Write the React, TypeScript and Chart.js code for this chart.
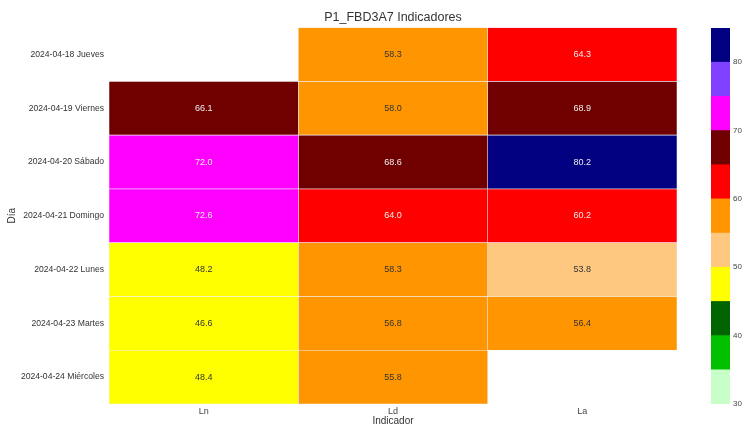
import React, { useEffect, useRef } from 'react';
import { Chart, registerables } from 'chart.js';

Chart.register(...registerables);

const chartTitle = 'P1_FBD3A7 Indicadores';
const days = [
  '2024-04-18 Jueves',
  '2024-04-19 Viernes',
  '2024-04-20 Sábado',
  '2024-04-21 Domingo',
  '2024-04-22 Lunes',
  '2024-04-23 Martes',
  '2024-04-24 Miércoles',
];
const indicators = ['Ln', 'Ld', 'La'];
const lnValues: (number | null)[] = [null, 66.1, 72.0, 72.6, 48.2, 46.6, 48.4];
const ldValues: (number | null)[] = [58.3, 58.0, 68.6, 64.0, 58.3, 56.8, 55.8];
const laValues: (number | null)[] = [64.3, 68.9, 80.2, 60.2, 53.8, 56.4, null];
const seriesValues = [lnValues, ldValues, laValues];

const bandEdges = [30, 35, 40, 45, 50, 55, 60, 65, 70, 75, 80, 85];
const bandColors = [
  '#c8ffc8', '#00c000', '#006400', '#ffff00', '#ffc880', '#ff9500',
  '#ff0000', '#700000', '#ff00ff', '#8040ff', '#000080',
];
const bandTextColors = [
  '#333333', '#333333', '#eeeeee', '#333333', '#333333', '#333333',
  '#eeeeee', '#eeeeee', '#eeeeee', '#eeeeee', '#eeeeee',
];
const colorbarTicks = [30, 40, 50, 60, 70, 80];

const FONT = "'Liberation Sans', Arial, sans-serif";

function bandIndex(v: number) {
  let i = Math.floor((v - bandEdges[0]) / 5);
  if (i < 0) i = 0;
  if (i > bandColors.length - 1) i = bandColors.length - 1;
  return i;
}

const cellLabels = {
  id: 'cellLabels',
  afterDatasetsDraw(chart: any) {
    const ctx = chart.ctx;
    ctx.save();
    ctx.font = `9px ${FONT}`;
    ctx.textAlign = 'center';
    ctx.textBaseline = 'middle';
    chart.data.datasets.forEach((_ds: any, di: number) => {
      const meta = chart.getDatasetMeta(di);
      const vals = seriesValues[di];
      meta.data.forEach((el: any, j: number) => {
        const v = vals[j];
        if (v == null) return;
        const p = el.getProps(['x', 'y', 'base'], true);
        ctx.fillStyle = bandTextColors[bandIndex(v)];
        ctx.fillText(v.toFixed(1), (p.x + p.base) / 2, p.y);
      });
    });
    ctx.restore();
  },
};

export default function App() {
  const mainRef = useRef<HTMLCanvasElement>(null);
  const barRef = useRef<HTMLCanvasElement>(null);

  useEffect(() => {
    document.body.style.margin = '0';
    Chart.defaults.font.family = FONT;

    const main = new Chart(mainRef.current!, {
      type: 'bar',
      data: {
        labels: days,
        datasets: seriesValues.map((vals, i) => ({
          label: indicators[i],
          data: vals.map((v) => (v == null ? null : [i, i + 1])) as any,
          backgroundColor: vals.map((v) => (v == null ? 'rgba(0,0,0,0)' : bandColors[bandIndex(v)])),
          borderColor: 'rgba(240,240,250,0.9)',
          borderWidth: 0.6,
          borderSkipped: false,
          grouped: false,
          barPercentage: 1,
          categoryPercentage: 1,
        })),
      },
      options: {
        indexAxis: 'y',
        responsive: false,
        animation: false,
        layout: { padding: { left: 0, right: 67, top: 0, bottom: 0 } },
        plugins: {
          legend: { display: false },
          tooltip: { enabled: false },
          title: {
            display: true,
            fullSize: false,
            text: chartTitle,
            color: '#333333',
            font: { size: 12.5, weight: 'normal' },
            padding: { top: 10, bottom: 2.6 },
          },
        },
        scales: {
          x: {
            type: 'linear',
            min: 0,
            max: 3,
            grid: { display: false, drawTicks: false },
            border: { display: false },
            afterBuildTicks: (scale: any) => {
              scale.ticks = indicators.map((_l, i) => ({ value: i + 0.5 }));
            },
            afterFit: (scale: any) => {
              scale.height = 23;
            },
            ticks: {
              padding: 2,
              color: '#444444',
              font: { size: 9 },
              autoSkip: false,
              maxRotation: 0,
              callback: (v: any) => indicators[Math.floor(Number(v))],
            },
            title: {
              display: true,
              text: 'Indicador',
              color: '#333333',
              font: { size: 10 },
              padding: { top: 0, bottom: 0 },
            },
          },
          y: {
            type: 'category',
            grid: { display: false, drawTicks: false },
            border: { display: false },
            afterFit: (scale: any) => {
              scale.width = 109;
            },
            ticks: {
              padding: 5,
              color: '#333333',
              font: { size: 8.6 },
              autoSkip: false,
            },
            title: {
              display: true,
              text: 'Día',
              color: '#333333',
              font: { size: 10 },
              padding: { top: 6, bottom: 0 },
            },
          },
        },
      },
      plugins: [cellLabels],
    } as any);

    const bar = new Chart(barRef.current!, {
      type: 'bar',
      data: {
        labels: [''],
        datasets: bandColors.map((c, i) => ({
          label: String(bandEdges[i]),
          data: [[bandEdges[i], bandEdges[i + 1]]] as any,
          backgroundColor: c,
          borderWidth: 0,
          grouped: false,
          barPercentage: 1,
          categoryPercentage: 1,
        })),
      },
      options: {
        responsive: false,
        animation: false,
        layout: { padding: { left: 11, right: 0, top: 28, bottom: 23 } },
        plugins: {
          legend: { display: false },
          tooltip: { enabled: false },
          title: { display: false },
        },
        scales: {
          x: { display: false },
          y: {
            type: 'linear',
            position: 'right',
            min: bandEdges[0],
            max: bandEdges[bandEdges.length - 1],
            grid: { display: false, drawTicks: false },
            border: { display: false },
            afterBuildTicks: (scale: any) => {
              scale.ticks = colorbarTicks.map((v) => ({ value: v }));
            },
            afterFit: (scale: any) => {
              scale.width = 14;
            },
            ticks: {
              padding: 3,
              color: '#444444',
              font: { size: 8 },
            },
          },
        },
      },
    } as any);

    return () => {
      main.destroy();
      bar.destroy();
    };
  }, []);

  return (
    <div style={{ position: 'relative', width: 744, height: 427, background: '#ffffff' }}>
      <canvas ref={mainRef} width={744} height={427} style={{ position: 'absolute', left: 0, top: 0 }} />
      <canvas ref={barRef} width={44} height={427} style={{ position: 'absolute', left: 700, top: 0 }} />
    </div>
  );
}
